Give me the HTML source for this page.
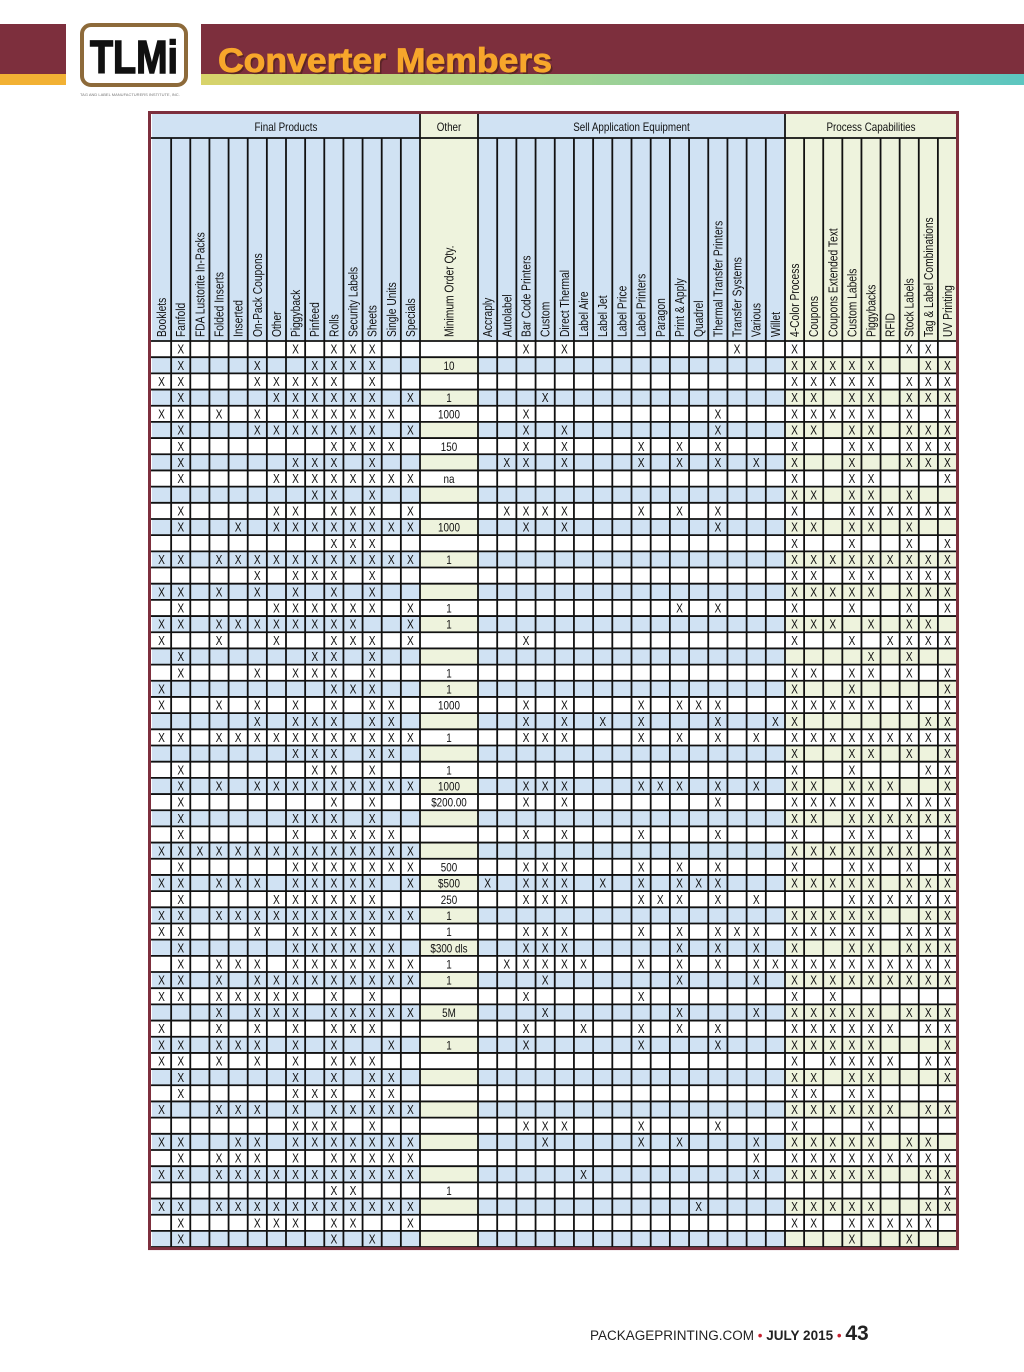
<!DOCTYPE html>
<html><head><meta charset="utf-8">
<style>
html,body{margin:0;padding:0;background:#fff;width:1024px;height:1372px;overflow:hidden;font-family:"Liberation Sans",sans-serif;}
#wrap{position:relative;width:1024px;height:1372px;}
</style></head>
<body>
<div id="wrap">
<svg id="chart" width="1024" height="1372" viewBox="0 0 1024 1372" xmlns="http://www.w3.org/2000/svg">
  <defs>
    <linearGradient id="stripe" x1="0" x2="1" y1="0" y2="0">
      <stop offset="0" stop-color="#d8d36a"/>
      <stop offset="0.4" stop-color="#a9d38e"/>
      <stop offset="1" stop-color="#5cc6c0"/>
    </linearGradient>
  </defs>
  <g>
    <rect x="0" y="24" width="66" height="50" fill="#7d2f3d"/>
    <rect x="0" y="74" width="66" height="11" fill="#f2b134"/>
    <rect x="201" y="24" width="823" height="50" fill="#7d2f3d"/>
    <rect x="201" y="74" width="823" height="11" fill="url(#stripe)"/>
    <rect x="82" y="25" width="104" height="60" rx="9" fill="#fff" stroke="#8d6a3a" stroke-width="4"/>
    <text x="90" y="73" textLength="88" lengthAdjust="spacingAndGlyphs" font-weight="bold" font-size="46" fill="#111" stroke="#111" stroke-width="1.5">TLMi</text>
    <text x="80" y="96" font-size="4" fill="#777">TAG AND LABEL MANUFACTURERS INSTITUTE, INC.</text>
    <text x="220" y="74" textLength="334" lengthAdjust="spacingAndGlyphs" font-weight="bold" font-size="34" fill="#3a1a10" opacity="0.5">Converter Members</text>
    <text x="218" y="72" textLength="334" lengthAdjust="spacingAndGlyphs" font-weight="bold" font-size="34" fill="#f7a62b" stroke="#f7a62b" stroke-width="0.8">Converter Members</text>
  </g>
  <g id="table"></g>
  <g>
    <text x="590" y="1340" font-size="13.5" fill="#222">PACKAGEPRINTING.COM <tspan fill="#c8202f">•</tspan> <tspan font-weight="bold">JULY 2015</tspan> <tspan fill="#c8202f">•</tspan> <tspan font-weight="bold" font-size="21">43</tspan></text>
  </g>
</svg>
</div>
<script>
// ---- data ----
const finalProductCols = ["Booklets","Fanfold","FDA Lustorite In-Packs","Folded Inserts","Inserted","On-Pack Coupons","Other","Piggyback","Pinfeed","Rolls","Security Labels","Sheets","Single Units","Specials"];
const sellEquipCols = ["Accraply","Autolabel","Bar Code Printers","Custom","Direct Thermal","Label Aire","Label Jet","Label Price","Label Printers","Paragon","Print & Apply","Quadrel","Thermal Transfer Printers","Transfer Systems","Various","Willet"];
const processCols = ["4-Color Process","Coupons","Coupons Extended Text","Custom Labels","Piggybacks","RFID","Stock Labels","Tag & Label Combinations","UV Printing"];
const finalProducts = [
"01000001011100","01000100111100","11000111110100","01000011111101","11010101111110","01000111111101",
"01000000011110","01000001110100","01000011111111","00000000110100","01000011011101","01001011111111",
"00000000011100","11011111111111","00000101110100","11010101010100","01000011111101","11011111111001",
"10010010011101","01000000110100","01000101110100","10000000011100","10010101010110","00000101110110",
"11011111111111","00000001110110","01000000110100","01010111111111","01000000010100","01000001110100",
"01000001011110","11111111111111","01000001111111","11011101111101","01000011111100","11011111111111",
"11000101111100","01000001111110","01011101111111","11010111111111","11011111010100","00010111011111",
"10010101011100","11011101010010","11010101011100","01000001010110","01000001110110","10011101011111",
"00000001110100","11001101111111","01011101011111","11011111111111","00000000011000","11011111111111",
"01000111011001","01000000010100"];
const minOrder = ["","10","","1","1000","","150","","na","","","1000","","1","","","1","1","","","1","1","1000","",
"1","","1","1000","$200.00","","","","500","$500","250","1","1","$300 dls","1","1","","5M","","1","","","","","","","","","1","","",""];
const sellEquip = [
"0010100000000100","0000000000000000","0000000000000000","0001000000000000","0010000000001000","0010100000001000",
"0010100010101000","0110100010101010","0000000000000000","0000000000000000","0111100010101000","0010100000001000",
"0000000000000000","0000000000000000","0000000000000000","0000000000000000","0000000000101000","0000000000000000",
"0010000000000000","0000000000000000","0000000000000000","0000000000000000","0010100010111000","0010101010001001",
"0011100010101010","0000000000000000","0000000000000000","0011100011101010","0010100000001000","0000000000000000",
"0010100010001000","0000000000000000","0011100010101000","1011101010111000","0011100011101010","0000000000000000",
"0011100010101110","0011100000101010","0111110010101011","0001000000100010","0010000010000000","0001000000100010",
"0010010010101000","0010000010001000","0000000000000000","0000000000000000","0000000000000000","0000000000000000",
"0011100010001000","0001000010100010","0000000000000010","0000010000000010","0000000000000000","0000000000010000",
"0000000000000000","0000000000000000"];
const processCaps = [
"100000110","111110011","111110111","110110111","111110101","110110111","100110111","100100111","100110001",
"110110100","100111111","110110100","100100101","111111111","110110111","111110111","100100101","111010110",
"100101111","000010100","110110101","100100001","111110101","100000011","111111111","100110101","100100011",
"110111001","111110111","110111111","100110101","111111111","100110101","111110111","000111111","111110011",
"111110111","100110111","111111111","111111111","101000000","111110111","111111011","111110001","101111011",
"110110001","110110000","111111011","100010000","111110110","111111111","111110011","000000001","111110011",
"110111110","000100100"];
const groupTitles = ["Final Products","Other","Sell Application Equipment","Process Capabilities"];
</script>
<script>
const NS = "http://www.w3.org/2000/svg";
const g = document.getElementById('table');
const TL = 151, TR = 957, TT = 114, GH = 138, DT = 341, RH = 16.18;
const finalX0 = 152, finalX1 = 420, minX1 = 478, sellX1 = 785, procX1 = 957;
const BLUE = "#d0e2f3", GREEN = "#eef3dd", WHITE = "#ffffff", MAROON = "#7d2f3d";
const CONDENSE = 0.82;
function mk(tag, attrs, parent) {
  const e = document.createElementNS(NS, tag);
  for (const k in attrs) e.setAttribute(k, attrs[k]);
  (parent || g).appendChild(e);
  return e;
}
function condense(t) {
  const len = t.getComputedTextLength();
  if (len > 0) {
    t.setAttribute('textLength', (len * CONDENSE).toFixed(1));
    t.setAttribute('lengthAdjust', 'spacingAndGlyphs');
  }
}
const cols = [];
const fw = (finalX1 - finalX0) / finalProductCols.length;
finalProductCols.forEach((n, i) => cols.push({name: n, sec: 'final', idx: i, x: finalX0 + i * fw, w: fw}));
cols.push({name: "Minimum Order Qty.", sec: 'min', idx: 0, x: finalX1, w: minX1 - finalX1});
const sw = (sellX1 - minX1) / sellEquipCols.length;
sellEquipCols.forEach((n, i) => cols.push({name: n, sec: 'sell', idx: i, x: minX1 + i * sw, w: sw}));
const pw = (procX1 - sellX1) / processCols.length;
processCols.forEach((n, i) => cols.push({name: n, sec: 'proc', idx: i, x: sellX1 + i * pw, w: pw}));
const nRows = finalProducts.length;
const bottom = DT + nRows * RH;

const groups = [
  {t: groupTitles[0], x0: finalX0, x1: finalX1, fill: BLUE},
  {t: groupTitles[1], x0: finalX1, x1: minX1, fill: GREEN},
  {t: groupTitles[2], x0: minX1, x1: sellX1, fill: BLUE},
  {t: groupTitles[3], x0: sellX1, x1: procX1, fill: GREEN}];
groups.forEach(gr => {
  const r = mk('rect', {x: gr.x0, y: TT, width: gr.x1 - gr.x0, height: GH - TT, fill: gr.fill});
  
  
  const t = mk('text', {x: (gr.x0 + gr.x1) / 2, y: 131, 'text-anchor': 'middle', 'font-size': 12, fill: '#111'});
  t.textContent = gr.t;
  
  
  condense(t);
});
cols.forEach(c => {
  const fill = (c.sec === 'min' || c.sec === 'proc') ? GREEN : BLUE;
  const r = mk('rect', {x: c.x, y: GH, width: c.w, height: DT - GH, fill: fill});
  
  
  const cx = c.x + c.w / 2 + 4.5;
  const ty = 337;
  const t = mk('text', {x: cx, y: ty, transform: `rotate(-90 ${cx} ${ty})`, 'font-size': 12.5, fill: '#111', 'text-anchor': 'start'});
  t.textContent = c.name;
  
  
  condense(t);
});
for (let r = 0; r < nRows; r++) {
  const y = DT + r * RH;
  const striped = r % 2 === 1;
  cols.forEach(c => {
    let fill = WHITE;
    if (striped) fill = (c.sec === 'min' || c.sec === 'proc') ? GREEN : BLUE;
    const cell = mk('rect', {x: c.x, y: y, width: c.w, height: RH, fill: fill});
    
    
    let val = '';
    if (c.sec === 'final') val = finalProducts[r][c.idx] === '1' ? 'X' : '';
    else if (c.sec === 'sell') val = sellEquip[r][c.idx] === '1' ? 'X' : '';
    else if (c.sec === 'proc') val = processCaps[r][c.idx] === '1' ? 'X' : '';
    else val = minOrder[r];
    if (val) {
      const t = mk('text', {x: c.x + c.w / 2, y: y + RH - 3.5, 'text-anchor': 'middle', 'font-size': c.sec === 'min' ? 12 : 12.5, fill: '#111'});
      t.textContent = val;
      
      
      condense(t);
    }
  });
}
cols.forEach((c, i) => {
  if (i === 0) return;
  const isGroup = (c.sec !== cols[i - 1].sec);
  const l = mk('line', {x1: c.x, x2: c.x, y1: isGroup ? TT : GH, y2: bottom, stroke: '#111', 'stroke-width': 1.8});
  
  
});
const hl = mk('line', {x1: TL, x2: TR, y1: GH, y2: GH, stroke: '#111', 'stroke-width': 1.8});


for (let r = 0; r <= nRows; r++) {
  const y = DT + r * RH;
  const l = mk('line', {x1: TL, x2: TR, y1: y, y2: y, stroke: '#111', 'stroke-width': 1.8});
  
  
}
const border = mk('rect', {x: 149.5, y: 112.5, width: 808, height: bottom - 112.5 + 1.5, fill: 'none', stroke: MAROON, 'stroke-width': 3});


</script>
</body></html>
